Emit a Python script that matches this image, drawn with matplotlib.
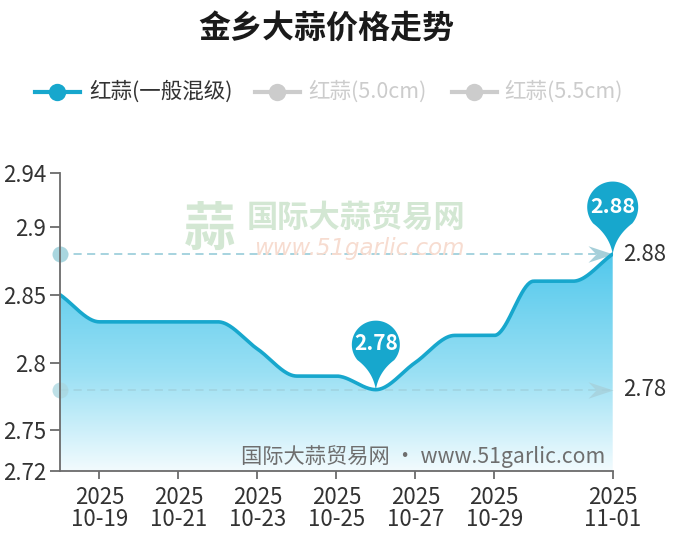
import numpy as np
import matplotlib
matplotlib.use('Agg')
import matplotlib.pyplot as plt
from matplotlib.patches import Polygon
from matplotlib.path import Path
from matplotlib.transforms import Affine2D, ScaledTranslation
from matplotlib.colors import LinearSegmentedColormap

plt.rcParams['font.family'] = ['Noto Sans CJK SC', 'DejaVu Sans']

# ---------------- data ----------------
title = '金乡大蒜价格走势'
year = '2025'
dates = ['10-18', '10-19', '10-20', '10-21', '10-22', '10-23', '10-24', '10-25',
         '10-26', '10-27', '10-28', '10-29', '10-30', '10-31', '11-01']
prices = [2.85, 2.83, 2.83, 2.83, 2.83, 2.81, 2.79, 2.79,
          2.78, 2.80, 2.82, 2.82, 2.86, 2.86, 2.88]
tick_dates = ['10-19', '10-21', '10-23', '10-25', '10-27', '10-29', '11-01']
y_ticks = [2.72, 2.75, 2.8, 2.85, 2.9, 2.94]
y_tick_labels = ['2.72', '2.75', '2.8', '2.85', '2.9', '2.94']
legend_labels = ['红蒜(一般混级)', '红蒜(5.0cm)', '红蒜(5.5cm)']
watermark_cn = '国际大蒜贸易网'
watermark_url = 'www.51garlic.com'
footer = '国际大蒜贸易网 · www.51garlic.com'

MAIN = '#17a7cd'
GREY_LEG = '#cccccc'
TXT = '#333333'
AXC = '#6b6b6b'

W, H = 675, 542
fig = plt.figure(figsize=(W / 100, H / 100), dpi=100)
ax = fig.add_axes([60 / W, 71 / H, (612.7 - 60) / W, (471 - 172.7) / H])

x = np.arange(len(dates))
y = np.array(prices)


def pchip_curve(xv, yv, n=40):
    d = np.diff(yv) / np.diff(xv)
    m = np.zeros_like(yv)
    for k in range(1, len(yv) - 1):
        if d[k - 1] * d[k] > 0:
            m[k] = 2.0 / (1.0 / d[k - 1] + 1.0 / d[k])
    m[0] = d[0]
    m[-1] = d[-1]
    xs, ys = [], []
    for k in range(len(xv) - 1):
        h = xv[k + 1] - xv[k]
        t = np.linspace(0, 1, n, endpoint=(k == len(xv) - 2))
        h00 = 2 * t**3 - 3 * t**2 + 1
        h10 = t**3 - 2 * t**2 + t
        h01 = -2 * t**3 + 3 * t**2
        h11 = t**3 - t**2
        xs.append(xv[k] + t * h)
        ys.append(h00 * yv[k] + h10 * h * m[k] + h01 * yv[k + 1] + h11 * h * m[k + 1])
    return np.concatenate(xs), np.concatenate(ys)


xs, ys = pchip_curve(x.astype(float), y)

ymin, ymax = 2.72, 2.94
ax.set_xlim(x[0], x[-1])
ax.set_ylim(ymin, ymax)

# gradient area
cmap = LinearSegmentedColormap.from_list(
    'g', [(0.0, '#f2fbfe'), (0.45, '#9ae0f4'), (1.0, '#52c8ec')])
grad = np.linspace(0, 1, 256).reshape(-1, 1)
top = max(prices)
im = ax.imshow(grad, cmap=cmap, extent=[x[0], x[-1], ymin, top], origin='lower',
               aspect='auto', zorder=1, interpolation='bilinear')
verts = np.column_stack([np.r_[xs, x[-1], x[0]], np.r_[ys, ymin, ymin]])
poly = Polygon(verts, closed=True, facecolor='none', edgecolor='none',
               transform=ax.transData)
ax.add_patch(poly)
im.set_clip_path(poly)

# smooth line
ax.plot(xs, ys, color=MAIN, lw=2.6, zorder=4, solid_capstyle='round')

# watermark
fig.text(210 / W, 1 - 230 / H, '蒜', fontsize=37, color='#d3e7d3',
         ha='center', va='center', fontweight='bold', zorder=0)
fig.text(247 / W, 1 - 218 / H, watermark_cn, fontsize=22.5, color='#d3e7d3',
         ha='left', va='center', fontweight='bold', zorder=0)
fig.text(254 / W, 1 - 248 / H, watermark_url, fontsize=16.5, color='#f7dcd0',
         ha='left', va='center', style='italic', zorder=0,
         family=['DejaVu Sans'])

# mark lines (max / min)
arrow_marker = Path([(0, 0), (-1, 0.33), (-0.68, 0), (-1, -0.33), (0, 0)],
                    [Path.MOVETO, Path.LINETO, Path.LINETO, Path.LINETO, Path.CLOSEPOLY])
for val, alpha in [(max(prices), 1.0), (min(prices), 0.75)]:
    ax.plot([x[0], x[-1]], [val, val], color='#9fd0dc', lw=1.3, alpha=alpha,
            dashes=(4.5, 3), zorder=3)
    ax.plot([x[0]], [val], marker='o', ms=11.5, color='#a9d6df', mec='none',
            zorder=5, clip_on=False, alpha=alpha)
    ax.plot([x[-1]], [val], marker=arrow_marker, ms=36, color='#a6cfd9',
            mec='none', zorder=3, clip_on=False, alpha=alpha)
    ax.annotate(f'{val:.2f}', xy=(x[-1], val), xytext=(10, 0),
                textcoords='offset pixels', ha='left', va='center',
                fontsize=16, color=TXT, annotation_clip=False)

# pins (max / min mark points)
def pin_verts(r=24.0, h=47.0, ang=40.0):
    a = np.deg2rad(ang)
    lx, ly = -r * np.cos(a), h - r * np.sin(a)
    rx, ry = r * np.cos(a), h - r * np.sin(a)
    pts = []
    t = np.linspace(0, 1, 30)
    cx, cy = -3.0, 18.0
    pts += list(zip(2 * (1 - t) * t * cx + t**2 * lx,
                    2 * (1 - t) * t * cy + t**2 * ly))
    th = np.linspace(np.pi + a, -a, 80)
    pts += list(zip(r * np.cos(th), h + r * np.sin(th)))
    pts += list(zip((1 - t)**2 * rx + 2 * (1 - t) * t * 3.0,
                    (1 - t)**2 * ry + 2 * (1 - t) * t * cy))
    return np.array(pts)


imax = int(np.argmax(prices))
imin = int(np.argmin(prices))
for idx, r, h, fs in [(imax, 25.5, 47.0, 15.5), (imin, 24.0, 45.0, 15.0)]:
    tr = Affine2D() + ScaledTranslation(x[idx], prices[idx], ax.transData)
    p = Polygon(pin_verts(r, h), closed=True, facecolor=MAIN, edgecolor='none',
                transform=tr, zorder=6, clip_on=False)
    ax.add_artist(p)
    ax.annotate(f'{prices[idx]:.2f}', xy=(x[idx], prices[idx]), xytext=(0, h + 1),
                textcoords='offset pixels', ha='center', va='center',
                fontsize=fs, fontweight='bold', color='white', zorder=7,
                annotation_clip=False)

# axes styling
for s in ['top', 'right']:
    ax.spines[s].set_visible(False)
for s in ['left', 'bottom']:
    ax.spines[s].set_color(AXC)
    ax.spines[s].set_linewidth(1.3)
    ax.spines[s].set_zorder(8)

ax.set_yticks(y_ticks)
ax.set_yticklabels(y_tick_labels)
ax.set_xticks([dates.index(d) for d in tick_dates])
ax.set_xticklabels([f'{year}\n{d}' for d in tick_dates], linespacing=0.95)
ax.tick_params(axis='y', length=7, width=1.3, color=AXC, pad=3,
               labelsize=16, labelcolor=TXT)
ax.tick_params(axis='x', length=6, width=1.3, color=AXC, pad=5,
               labelsize=16, labelcolor=TXT)

# footer text
fig.text(605 / W, 1 - 457 / H, footer, fontsize=15.3, color='#6e6e6e',
         ha='right', va='center', zorder=9)

# title
fig.text(326 / W, 1 - 30 / H, title, fontsize=23, fontweight='bold',
         color='#1a1a1a', ha='center', va='center')

# legend (manual)
ly = 1 - 92 / H
leg_items = [(35, 80, 57, 89, MAIN, TXT),
             (255, 300, 277, 308, GREY_LEG, GREY_LEG),
             (452, 497, 474, 504, GREY_LEG, GREY_LEG)]
for (x0, x1, xc, xt, mc, tc), lab in zip(leg_items, legend_labels):
    fig.add_artist(plt.Line2D([x0 / W, x1 / W], [ly, ly], color=mc, lw=3,
                              transform=fig.transFigure))
    fig.add_artist(plt.Line2D([xc / W], [ly], marker='o', ms=12.5, color=mc,
                              mec='none', transform=fig.transFigure))
    fig.text(xt / W, ly, lab, fontsize=15.5, color=tc, ha='left', va='center')

fig.savefig('out.png', dpi=100)
